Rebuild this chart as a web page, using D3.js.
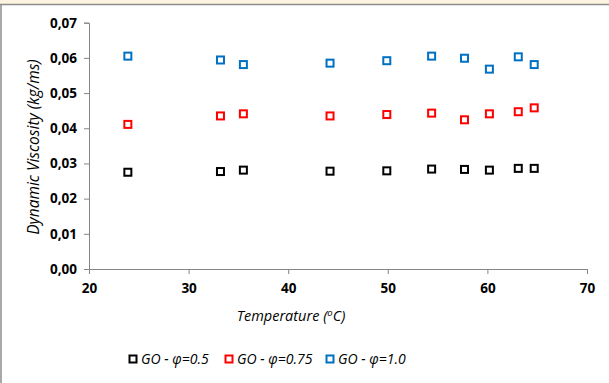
<!DOCTYPE html>
<html><head><meta charset="utf-8">
<script src="https://cdn.jsdelivr.net/npm/d3@7"></script>
<style>body{margin:0;background:#fff;}svg{display:block;}</style>
</head><body>
<svg id="c" width="609" height="383"></svg>
<script>
const temperatures = [23.9, 33.2, 35.5, 44.2, 49.9, 54.4, 57.7, 60.2, 63.1, 64.7];
const visc05  = [0.0275, 0.0277, 0.0281, 0.0278, 0.0279, 0.0284, 0.0283, 0.0281, 0.0286, 0.0286];
const visc075 = [0.0411, 0.0435, 0.0441, 0.0435, 0.0439, 0.0443, 0.0424, 0.0441, 0.0447, 0.0458];
const visc10  = [0.0605, 0.0594, 0.0581, 0.0585, 0.0592, 0.0605, 0.0599, 0.0568, 0.0603, 0.0581];
const seriesNames = ["GO - \u03c6=0.5", "GO - \u03c6=0.75", "GO - \u03c6=1.0"];
const seriesColors = ["#000000", "#ff0000", "#0070c0"];
const xTicks = [20, 30, 40, 50, 60, 70];
const yTicks = [0, 0.01, 0.02, 0.03, 0.04, 0.05, 0.06, 0.07];

const series = [visc05, visc075, visc10];
const svg = d3.select("#c");
const font = "'Open Sans', 'Liberation Sans', sans-serif";

// frame
svg.append("rect").attr("x",0).attr("y",0).attr("width",609).attr("height",4).attr("fill","#fdf4e0");
svg.append("line").attr("x1",0).attr("x2",609).attr("y1",4.5).attr("y2",4.5).attr("stroke","#8c8c8c").attr("stroke-width",1.5);
svg.append("line").attr("x1",1).attr("x2",1).attr("y1",4).attr("y2",383).attr("stroke","#8c8c8c").attr("stroke-width",1.5);

const x = d3.scaleLinear().domain([20,70]).range([89,587]);
const y = d3.scaleLinear().domain([0,0.07]).range([269,22.7]);

const fmt = d => d3.format(".2f")(d).replace(".", ",");

const yAxis = svg.append("g").attr("transform","translate(89,0)")
  .call(d3.axisLeft(y).tickValues(yTicks).tickFormat(fmt).tickSize(5).tickPadding(7));
const xAxis = svg.append("g").attr("transform","translate(0,269)")
  .call(d3.axisBottom(x).tickValues(xTicks).tickFormat(d3.format("d")).tickSize(5).tickPadding(9));
[yAxis, xAxis].forEach(a => {
  a.select(".domain").attr("stroke","#868686").attr("stroke-width",1);
  a.selectAll(".tick line").attr("stroke","#868686");
  a.selectAll(".tick text").attr("fill","#000").attr("font-family",font)
    .attr("font-weight","bold").attr("font-size",13.5);
});

// y title
svg.append("text").attr("transform","translate(39,147) rotate(-90)")
  .attr("text-anchor","middle").attr("font-family",font).attr("font-style","italic")
  .attr("font-size",15.5).attr("fill","#000").text("Dynamic Viscosity (kg/ms)");

// x title
const xt = svg.append("text").attr("x",291).attr("y",321).attr("text-anchor","middle")
  .attr("font-family",font).attr("font-style","italic").attr("font-size",14.5).attr("fill","#000");
xt.append("tspan").text("Temperature (");
xt.append("tspan").attr("font-size",9.5).attr("dy",-5).text("o");
xt.append("tspan").attr("dy",5).text("C)");

// points
const ms = 7;
series.forEach((vals, si) => {
  svg.append("g").selectAll("rect").data(vals).join("rect")
    .attr("x",(d,i)=>x(temperatures[i]) - ms/2)
    .attr("y",d=>y(d) - ms/2)
    .attr("width",ms).attr("height",ms)
    .attr("fill","#fff").attr("stroke",seriesColors[si]).attr("stroke-width",2);
});

// legend
const legX = [133, 229, 330];
seriesNames.forEach((n, i) => {
  svg.append("rect").attr("x",legX[i]-ms/2).attr("y",359-ms/2).attr("width",ms).attr("height",ms)
    .attr("fill","#fff").attr("stroke",seriesColors[i]).attr("stroke-width",2);
  svg.append("text").attr("x",legX[i]+8).attr("y",364).attr("font-family",font)
    .attr("font-style","italic").attr("font-size",14).attr("fill","#000").text(n);
});
</script>
</body></html>
